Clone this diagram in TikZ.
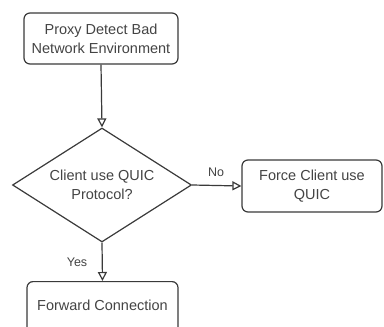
\documentclass[tikz,border=0pt]{standalone}
\usepackage{fontspec}
\setmainfont{Liberation Sans}
\usetikzlibrary{shapes.geometric,arrows.meta}
\definecolor{linec}{HTML}{3A3A3A}
\definecolor{textc}{HTML}{444444}
\begin{document}
\begin{tikzpicture}[x=1pt,y=-1pt,
  box/.style={draw=linec,line width=1.2pt,rounded corners=6pt,fill=white,inner sep=0pt,
    text=textc,align=center,font=\fontsize{14.5}{19}\selectfont},
  dec/.style={draw=linec,line width=1.2pt,shape=diamond,inner sep=0pt,fill=white,
    minimum width=179pt,minimum height=114pt},
  lbl/.style={text=textc,align=center,font=\fontsize{14.5}{19}\selectfont,inner sep=0pt},
  small/.style={text=textc,font=\fontsize{12.5}{14}\selectfont,inner sep=1pt,fill=white},
  conn/.style={draw=linec,line width=1.2pt,-{Triangle[open,length=9pt,width=9pt]}}]
\useasboundingbox (0,0) rectangle (384,327);
\clip (0,0) rectangle (384,327);
\node[box,minimum width=154pt,minimum height=51pt] (top) at (101,38.5) {Proxy Detect Bad\\Network Environment};
\node[dec] (dec) at (102,185) {};
\node[lbl] (dect) at (102,185) {Client use QUIC\\Protocol?};
\node[box,minimum width=140pt,minimum height=52pt] (force) at (312,186) {Force Client use\\QUIC};
\node[box,minimum width=151pt,minimum height=51pt,anchor=north] (fwd) at (102.5,281) {};
\node[lbl] (fwdt) at (102.5,305) {Forward Connection};
\draw[conn] (top.south) -- (dec.north);
\draw[conn] (dec.south) -- (fwd.north);
\draw[conn] (dec.east) -- (force.west);
\node[small] (yes) at (77,262) {Yes};
\node[small] (no) at (216,172) {No};
\end{tikzpicture}
\end{document}
